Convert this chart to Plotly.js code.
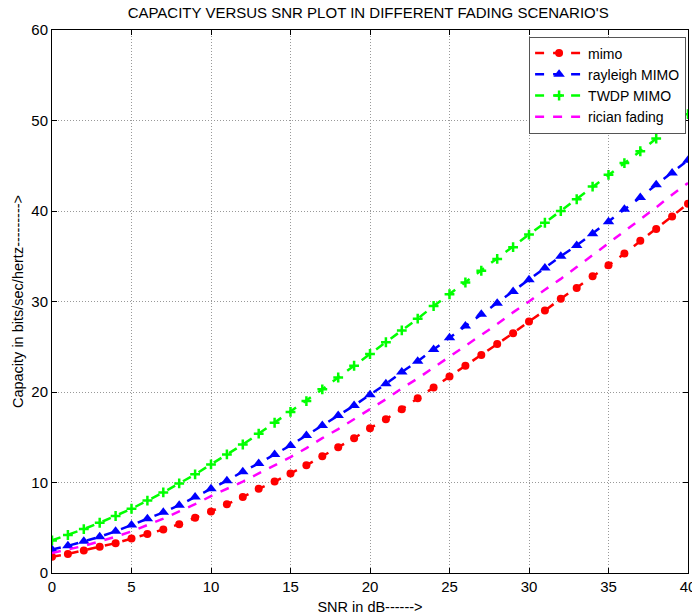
<!DOCTYPE html>
<html>
<head>
<meta charset="utf-8">
<script src="https://cdn.plot.ly/plotly-3.0.1.min.js"></script>
<style>html,body{margin:0;padding:0;background:#fff;}#chart{width:692px;height:615px;}</style>
</head>
<body>
<div id="chart"></div>
<script>
const snr = [0,1,2,3,4,5,6,7,8,9,10,11,12,13,14,15,16,17,18,19,20,21,22,23,24,25,26,27,28,29,30,31,32,33,34,35,36,37,38,39,40];
const mimo = [1.8,2.1,2.5,2.9,3.3,3.8,4.3,4.8,5.4,6.1,6.8,7.6,8.4,9.3,10.1,11.0,11.9,12.9,13.9,14.9,16.0,17.0,18.1,19.3,20.5,21.7,22.9,24.1,25.3,26.5,27.8,29.0,30.3,31.5,32.8,34.0,35.3,36.7,38.0,39.4,40.8];
const rayleigh = [2.6,3.0,3.5,4.0,4.6,5.3,6.0,6.7,7.5,8.4,9.3,10.2,11.2,12.1,13.1,14.1,15.2,16.3,17.4,18.5,19.7,20.9,22.2,23.4,24.7,26.0,27.3,28.6,29.8,31.1,32.4,33.7,35.0,36.2,37.5,38.8,40.2,41.5,42.9,44.2,45.6];
const twdp = [3.6,4.2,4.85,5.55,6.3,7.1,8.0,8.9,9.9,10.9,12.0,13.1,14.2,15.4,16.6,17.8,19.0,20.3,21.6,22.9,24.2,25.5,26.8,28.1,29.5,30.8,32.1,33.4,34.7,36.0,37.4,38.7,40.0,41.3,42.7,44.0,45.3,46.6,48.0,49.3,50.7];
const rician = [2.2,2.6,3.0,3.5,4.0,4.6,5.3,6.0,6.8,7.6,8.5,9.3,10.1,11.0,11.9,12.8,13.8,14.9,15.9,17.0,18.1,19.2,20.4,21.5,22.7,23.9,25.1,26.3,27.5,28.8,30.0,31.3,32.5,33.8,35.1,36.4,37.7,39.1,40.4,41.8,43.1];
const seriesNames = ['mimo','rayleigh MIMO','TWDP MIMO','rician fading'];
const xTicks = [0,5,10,15,20,25,30,35,40];
const yTicks = [0,10,20,30,40,50,60];

const font = 'Liberation Sans, Arial, sans-serif';
const traces = [
  {x: snr, y: mimo, name: seriesNames[0], mode: 'lines+markers',
   line: {color: '#ff0000', width: 2.5, dash: 'dash'},
   marker: {symbol: 'circle', size: 8, color: '#ff0000'}},
  {x: snr, y: rayleigh, name: seriesNames[1], mode: 'lines+markers',
   line: {color: '#0000ff', width: 2.5, dash: 'dash'},
   marker: {symbol: 'triangle-up', size: 10, color: '#0000ff'}},
  {x: snr, y: twdp, name: seriesNames[2], mode: 'lines+markers',
   line: {color: '#00ff00', width: 2.5, dash: 'dash'},
   marker: {symbol: 'cross-thin', size: 7, color: '#00ff00', line: {color: '#00ff00', width: 2.5}}},
  {x: snr, y: rician, name: seriesNames[3], mode: 'lines',
   line: {color: '#ff00ff', width: 2.5, dash: 'dash'}}
];

const axisCommon = {
  showline: true, linecolor: '#000', linewidth: 1, mirror: 'ticks',
  ticks: 'inside', ticklen: 5, tickcolor: '#000',
  showgrid: true, gridcolor: '#999999', griddash: '1px,2px', gridwidth: 1,
  zeroline: false, tickfont: {family: font, size: 15, color: '#000'},
  ticklabeloverflow: 'allow'
};

const layout = {
  width: 692, height: 615,
  margin: {l: 52, r: 4, t: 30, b: 42},
  paper_bgcolor: '#fff', plot_bgcolor: '#fff',
  font: {family: font, color: '#000'},
  title: {text: "CAPACITY VERSUS SNR PLOT IN DIFFERENT FADING SCENARIO'S",
          font: {family: font, size: 15, color: '#000'}, x: 0.532, xanchor: 'center', y: 0.988, yanchor: 'top'},
  xaxis: Object.assign({}, axisCommon, {
    range: [0, 40], tickvals: xTicks, ticktext: xTicks.map(String),
    title: {text: 'SNR in dB------>', font: {family: font, size: 14.5, color: '#000'}, standoff: 7}
  }),
  yaxis: Object.assign({}, axisCommon, {
    range: [0, 60], tickvals: yTicks, ticktext: yTicks.map(String),
    title: {text: 'Capacity in bits/sec/hertz--------->', font: {family: font, size: 14.5, color: '#000'}, standoff: 4}
  }),
  showlegend: true,
  legend: {x: 0.997, xanchor: 'right', y: 0.988, yanchor: 'top',
           bgcolor: '#fff', bordercolor: '#555', borderwidth: 1, itemwidth: 48,
           font: {family: font, size: 14, color: '#000'}, tracegroupgap: 0}
};

Plotly.newPlot('chart', traces, layout, {displayModeBar: false, staticPlot: true});
</script>
</body>
</html>
